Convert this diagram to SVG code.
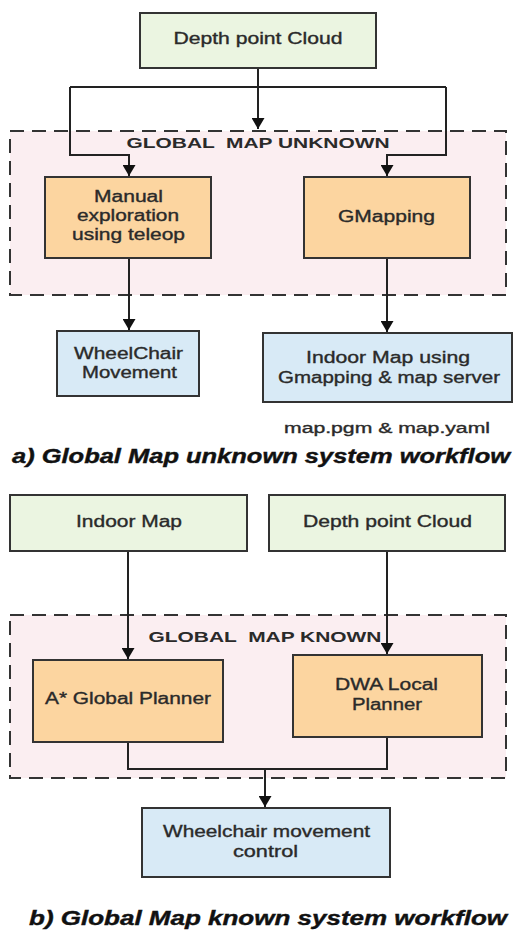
<svg xmlns="http://www.w3.org/2000/svg" width="531" height="932" viewBox="0 0 531 932">
<style>
.bg{fill:#ffffff}
.cont{fill:#fbeef1;stroke:#333;stroke-width:2;stroke-dasharray:14,8}
.green{fill:#ebf5e1;stroke:#333;stroke-width:2}
.orange{fill:#fcd5a0;stroke:#333;stroke-width:2}
.blue{fill:#d8eaf6;stroke:#333;stroke-width:2}
.t{font-family:"Liberation Sans",Arial,sans-serif;font-size:16px;fill:#2a2a2a;stroke:#2a2a2a;stroke-width:0.35;text-anchor:middle}
.lbl{font-family:"Liberation Sans",Arial,sans-serif;font-size:15px;font-weight:bold;fill:#2a2a2a;text-anchor:middle;white-space:pre}
.cap{font-family:"Liberation Sans",Arial,sans-serif;font-size:20px;font-weight:bold;font-style:italic;fill:#111;stroke:#111;stroke-width:0.4;text-anchor:middle}
.c{fill:none;stroke:#222;stroke-width:2}
</style>
<defs>
<marker id="ah" markerWidth="11" markerHeight="13" refX="11" refY="6.5" orient="auto" markerUnits="userSpaceOnUse">
<path d="M0,0 L11,6.5 L0,13 Z" fill="#111"/>
</marker>
</defs>
<rect class="bg" x="0" y="0" width="531" height="932"/>

<g id="container-unknown">
<rect class="cont" x="10" y="131" width="496" height="164"/>
<text class="lbl" x="258" y="148" textLength="263" lengthAdjust="spacingAndGlyphs" xml:space="preserve">GLOBAL  MAP UNKNOWN</text>
</g>
<g id="container-known">
<rect class="cont" x="10" y="615" width="496" height="163"/>
<text class="lbl" x="265" y="642" textLength="233" lengthAdjust="spacingAndGlyphs" xml:space="preserve">GLOBAL  MAP KNOWN</text>
</g>

<g id="connectors">
<path class="c" d="M258,68 V129" marker-end="url(#ah)"/>
<path class="c" d="M70,87 H446"/>
<path class="c" d="M70,87 V155 H129 V176" marker-end="url(#ah)"/>
<path class="c" d="M446,87 V155 H387 V176" marker-end="url(#ah)"/>
<path class="c" d="M129,258 V330" marker-end="url(#ah)"/>
<path class="c" d="M387,258 V332" marker-end="url(#ah)"/>
<path class="c" d="M128,551 V659" marker-end="url(#ah)"/>
<path class="c" d="M387,551 V654" marker-end="url(#ah)"/>
<path class="c" d="M128,742 V769 H387 V737"/>
<path class="c" d="M265,769 V807" marker-end="url(#ah)"/>
</g>

<g id="depth-cloud-a">
<rect class="green" x="140" y="13" width="236" height="55"/>
<text class="t" x="258" y="44" textLength="169" lengthAdjust="spacingAndGlyphs">Depth point Cloud</text>
</g>
<g id="manual-exploration">
<rect class="orange" x="45" y="177" width="166" height="81"/>
<text class="t" x="128.5" y="202" textLength="69" lengthAdjust="spacingAndGlyphs">Manual</text>
<text class="t" x="128" y="221" textLength="102" lengthAdjust="spacingAndGlyphs">exploration</text>
<text class="t" x="128.5" y="240" textLength="113" lengthAdjust="spacingAndGlyphs">using teleop</text>
</g>
<g id="gmapping">
<rect class="orange" x="304" y="177" width="166" height="81"/>
<text class="t" x="386.5" y="222" textLength="97" lengthAdjust="spacingAndGlyphs">GMapping</text>
</g>
<g id="wheelchair-movement">
<rect class="blue" x="57" y="331" width="142" height="65"/>
<text class="t" x="128.5" y="359" textLength="109" lengthAdjust="spacingAndGlyphs">WheelChair</text>
<text class="t" x="129.5" y="378" textLength="95" lengthAdjust="spacingAndGlyphs">Movement</text>
</g>
<g id="indoor-map-gmapping">
<rect class="blue" x="263" y="333" width="249" height="69"/>
<text class="t" x="388" y="363" textLength="164" lengthAdjust="spacingAndGlyphs">Indoor Map using</text>
<text class="t" x="389" y="383" textLength="222" lengthAdjust="spacingAndGlyphs">Gmapping &amp; map server</text>
</g>
<g id="map-files">
<text class="t" x="387" y="433" style="font-size:14px" textLength="206" lengthAdjust="spacingAndGlyphs">map.pgm &amp; map.yaml</text>
</g>
<g id="caption-a">
<text class="cap" x="261" y="463" textLength="498" lengthAdjust="spacingAndGlyphs">a) Global Map unknown system workflow</text>
</g>

<g id="indoor-map">
<rect class="green" x="10" y="495" width="237" height="56"/>
<text class="t" x="129" y="527" textLength="106" lengthAdjust="spacingAndGlyphs">Indoor Map</text>
</g>
<g id="depth-cloud-b">
<rect class="green" x="269" y="495" width="236" height="56"/>
<text class="t" x="387.5" y="527" textLength="169" lengthAdjust="spacingAndGlyphs">Depth point Cloud</text>
</g>
<g id="astar-planner">
<rect class="orange" x="33" y="660" width="190" height="82"/>
<text class="t" x="128" y="704" textLength="166" lengthAdjust="spacingAndGlyphs">A* Global Planner</text>
</g>
<g id="dwa-planner">
<rect class="orange" x="293" y="655" width="189" height="82"/>
<text class="t" x="386.5" y="690" textLength="103" lengthAdjust="spacingAndGlyphs">DWA Local</text>
<text class="t" x="387" y="710" textLength="70" lengthAdjust="spacingAndGlyphs">Planner</text>
</g>
<g id="wheelchair-control">
<rect class="blue" x="142" y="808" width="248" height="69"/>
<text class="t" x="266.5" y="837" textLength="207" lengthAdjust="spacingAndGlyphs">Wheelchair movement</text>
<text class="t" x="265.5" y="857" textLength="65" lengthAdjust="spacingAndGlyphs">control</text>
</g>
<g id="caption-b">
<text class="cap" x="268" y="925" textLength="478" lengthAdjust="spacingAndGlyphs">b) Global Map known system workflow</text>
</g>
</svg>
